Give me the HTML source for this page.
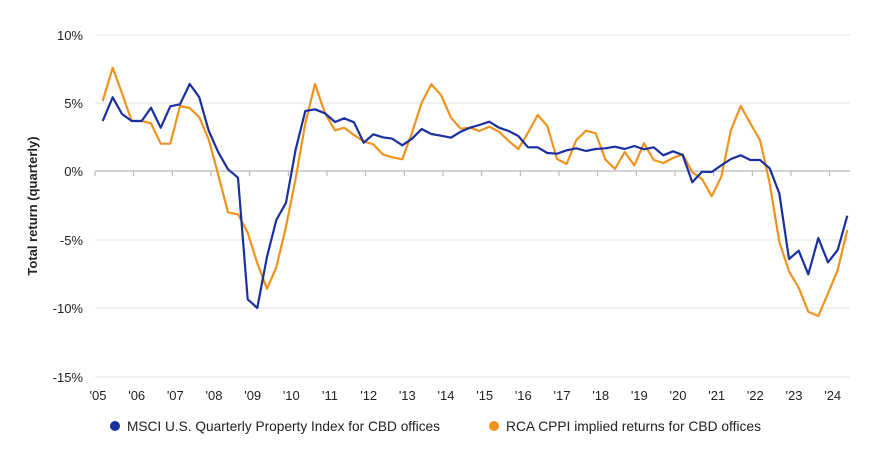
<!DOCTYPE html>
<html><head><meta charset="utf-8"><style>
body{margin:0;background:#fff;}
svg{display:block;font-family:"Liberation Sans",sans-serif;}
</style></head><body>
<svg width="870" height="450" viewBox="0 0 870 450">
<g stroke="#e3e3e3" stroke-width="1">
<line x1="95" y1="35" x2="850" y2="35"/>
<line x1="95" y1="103" x2="850" y2="103"/>
<line x1="95" y1="240" x2="850" y2="240"/>
<line x1="95" y1="308" x2="850" y2="308"/>
<line x1="95" y1="377" x2="850" y2="377"/>
</g>
<line x1="95" y1="171" x2="850" y2="171" stroke="#aaaaaa" stroke-width="1"/>
<g stroke="#aaaaaa" stroke-width="1">
<line x1="95" y1="171" x2="95" y2="176"/><line x1="133.7" y1="171" x2="133.7" y2="176"/><line x1="172.3" y1="171" x2="172.3" y2="176"/><line x1="211" y1="171" x2="211" y2="176"/><line x1="249.7" y1="171" x2="249.7" y2="176"/><line x1="288.3" y1="171" x2="288.3" y2="176"/><line x1="327" y1="171" x2="327" y2="176"/><line x1="365.7" y1="171" x2="365.7" y2="176"/><line x1="404.3" y1="171" x2="404.3" y2="176"/><line x1="443" y1="171" x2="443" y2="176"/><line x1="481.7" y1="171" x2="481.7" y2="176"/><line x1="520.3" y1="171" x2="520.3" y2="176"/><line x1="559" y1="171" x2="559" y2="176"/><line x1="597.7" y1="171" x2="597.7" y2="176"/><line x1="636.3" y1="171" x2="636.3" y2="176"/><line x1="675" y1="171" x2="675" y2="176"/><line x1="713.7" y1="171" x2="713.7" y2="176"/><line x1="752.3" y1="171" x2="752.3" y2="176"/><line x1="791" y1="171" x2="791" y2="176"/><line x1="829.7" y1="171" x2="829.7" y2="176"/>
</g>
<g font-size="13" fill="#222" text-anchor="end">
<text x="83" y="40">10%</text><text x="83" y="108">5%</text><text x="83" y="176">0%</text><text x="83" y="245">-5%</text><text x="83" y="313">-10%</text><text x="83" y="382">-15%</text>
</g>
<text transform="translate(37,206) rotate(-90)" font-size="13" font-weight="bold" fill="#222" text-anchor="middle">Total return (quarterly)</text>
<g font-size="13" fill="#222" text-anchor="middle">
<text x="98" y="400">'05</text><text x="136.7" y="400">'06</text><text x="175.3" y="400">'07</text><text x="214" y="400">'08</text><text x="252.7" y="400">'09</text><text x="291.3" y="400">'10</text><text x="330" y="400">'11</text><text x="368.7" y="400">'12</text><text x="407.3" y="400">'13</text><text x="446" y="400">'14</text><text x="484.7" y="400">'15</text><text x="523.3" y="400">'16</text><text x="562" y="400">'17</text><text x="600.7" y="400">'18</text><text x="639.3" y="400">'19</text><text x="678" y="400">'20</text><text x="716.7" y="400">'21</text><text x="755.3" y="400">'22</text><text x="794" y="400">'23</text><text x="832.7" y="400">'24</text>
</g>
<polyline fill="none" stroke="#f0931e" stroke-width="2.2" stroke-linejoin="round" points="102.7,101 112.7,67.7 122,93.3 131.7,121 141.7,121 151,123.3 160.7,143.7 170.3,143.7 180,106 189.7,108 199.3,117.3 208.7,139.3 218.3,175 228,212.3 238,214.3 247.7,232.7 257.3,263.3 267,288.7 276.3,267.3 286,226.7 295.7,178.3 305.3,123.3 315,84 325,113.3 335,130.3 344.3,127.7 354,135 363.7,141.3 373.3,144.3 382.7,154.3 392.3,157.3 402.3,159.3 412,132.7 421.7,102.7 431.3,84.3 441,95 451,117.7 460.7,128.7 470,127.7 479.3,131 489.3,126.7 499,131.7 508.7,141 518.3,149 528,132.7 537.7,115 547.3,126 557,159 566.7,164 576.3,140 586,130.7 595.7,133.3 605.3,159.3 615,169 624.7,152 634.3,165.3 644,143.3 653.7,160 663.3,163 673,158 682.7,154.3 692.3,172.3 702,179 711.7,196.3 721.3,176.7 731,130 740.7,106 750.3,123.3 760,140 769.7,183.3 779.3,241.7 789,271.3 798.7,287.7 808.3,311.7 818.3,316 828,293.3 837.7,270 847.3,230"/>
<polyline fill="none" stroke="#1a2fa0" stroke-width="2.2" stroke-linejoin="round" points="102.7,121 112.7,97.3 122,114 131.7,121 141.7,121 151,107.7 160.7,127.7 170.3,106.3 180,104.3 189.7,84 199.3,97.3 208.7,130.7 218.3,152.3 228,169.3 238,177.7 247.7,299.3 257.3,308 267,256.7 276.3,220 286,202.7 295.7,149.3 305.3,111 315,109.3 325,113.3 335,122 344.3,118.3 354,122.3 363.7,142.7 373.3,134.3 382.7,137.3 392.3,138.7 402.3,145.3 412,138.7 421.7,129 431.3,134 441,135.7 451,137.7 460.7,131.7 470,127.7 479.3,125 489.3,121.7 499,127.7 508.7,131 518.3,136 528,147.3 537.7,147.3 547.3,153 557,153.7 566.7,150.3 576.3,148.3 586,151 595.7,149 605.3,148.3 615,146.7 624.7,149 634.3,146 644,149.3 653.7,147.3 663.3,155.3 673,151.3 682.7,155 692.3,182.3 702,171.7 711.7,172 721.3,165.3 731,159 740.7,155.3 750.3,160 760,160 769.7,168.3 779.3,193.3 789,259 798.7,250.7 808.3,274.3 818.3,238 828,262.3 837.7,250 847.3,215.7"/>
<circle cx="115" cy="426" r="5" fill="#1a2fa0"/>
<text x="127" y="431" font-size="14" fill="#222" textLength="313" lengthAdjust="spacingAndGlyphs">MSCI U.S. Quarterly Property Index for CBD offices</text>
<circle cx="494" cy="426" r="5" fill="#f0931e"/>
<text x="506" y="431" font-size="14" fill="#222" textLength="255" lengthAdjust="spacingAndGlyphs">RCA CPPI implied returns for CBD offices</text>
</svg>
</body></html>
